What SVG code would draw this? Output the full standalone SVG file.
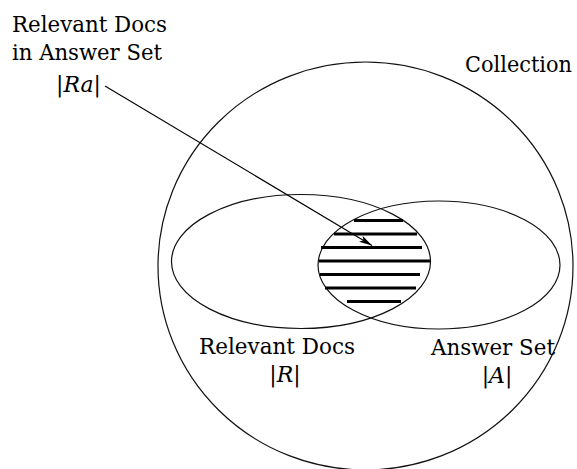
<svg xmlns="http://www.w3.org/2000/svg" width="577" height="469" viewBox="0 0 577 469">
  <style>
    .outline { fill: none; stroke: #111; stroke-width: 1.2; }
    .hatch { stroke: #000; stroke-width: 3; }
    .lbl { font-family: 'DejaVu Serif', 'Liberation Serif', serif; font-size: 22px; fill: #000; }
    .it { font-style: italic; }
    .conn { stroke: #000; stroke-width: 1.1; fill: none; }
  </style>
  <defs>
    <marker id="arrow" markerUnits="userSpaceOnUse" markerWidth="14" markerHeight="8" refX="13" refY="3.5" orient="auto">
      <path d="M0,0 L13,3.5 L0,7 L3,3.5 z" fill="#000"/>
    </marker>
  </defs>
  <rect width="577" height="469" fill="#fff"/>

  <g id="collection">
    <ellipse class="outline" cx="365.5" cy="266" rx="207.5" ry="204"/>
    <text class="lbl" x="465" y="72" textLength="107" lengthAdjust="spacingAndGlyphs">Collection</text>
  </g>

  <g id="relevant-docs">
    <ellipse class="outline" cx="301" cy="261.5" rx="129.5" ry="67"/>
    <text class="lbl" x="199" y="354" textLength="156" lengthAdjust="spacingAndGlyphs">Relevant Docs</text>
    <text class="lbl" x="285" y="382" text-anchor="middle">|<tspan class="it">R</tspan>|</text>
  </g>

  <g id="answer-set">
    <ellipse class="outline" cx="439" cy="265" rx="121" ry="64"/>
    <text class="lbl" x="431" y="355" textLength="124" lengthAdjust="spacingAndGlyphs">Answer Set</text>
    <text class="lbl" x="497" y="383" text-anchor="middle">|<tspan class="it">A</tspan>|</text>
  </g>

  <g id="relevant-in-answer">
    <line class="hatch" x1="354" y1="220.5" x2="403" y2="220.5"/>
    <line class="hatch" x1="334" y1="234" x2="417" y2="234"/>
    <line class="hatch" x1="321" y1="247.5" x2="422" y2="247.5"/>
    <line class="hatch" x1="319" y1="261" x2="430" y2="261"/>
    <line class="hatch" x1="320" y1="274.5" x2="420" y2="274.5"/>
    <line class="hatch" x1="325" y1="288" x2="416" y2="288"/>
    <line class="hatch" x1="347" y1="301.5" x2="401" y2="301.5"/>
    <text class="lbl" x="12" y="32" textLength="155" lengthAdjust="spacingAndGlyphs">Relevant Docs</text>
    <text class="lbl" x="12" y="60" textLength="150" lengthAdjust="spacingAndGlyphs">in Answer Set</text>
    <text class="lbl" x="78.5" y="92" text-anchor="middle">|<tspan class="it">Ra</tspan>|</text>
  </g>

  <g id="connectors">
    <line class="conn" x1="105" y1="86" x2="372" y2="245.5" marker-end="url(#arrow)"/>
  </g>
</svg>
